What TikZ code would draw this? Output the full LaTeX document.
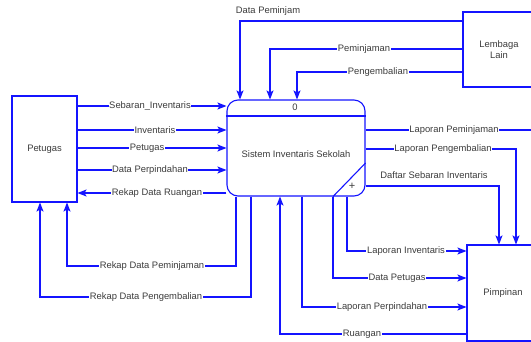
\documentclass[tikz,border=0pt]{standalone}
\usepackage{fontspec}
\setmainfont{Liberation Sans}
\usetikzlibrary{arrows.meta}
\definecolor{flowblue}{RGB}{20,20,255}
\definecolor{txtgray}{RGB}{60,60,60}
\tikzset{
  boxstyle/.style={draw=flowblue, line width=1.1pt, fill=white, text=txtgray, font=\fontsize{9.4}{11}\selectfont, align=center, inner sep=0pt},
  flow/.style={draw=flowblue, line width=1.1pt, -{Stealth[length=9pt,width=7pt,inset=2pt]}},
  plainflow/.style={draw=flowblue, line width=1.1pt},
  lbl/.style={fill=white, text=txtgray, font=\fontsize{9.4}{11}\selectfont, inner sep=0.6pt},
  freelbl/.style={text=txtgray, font=\fontsize{9.4}{11}\selectfont, inner sep=0.6pt}
}
\begin{document}
\begin{tikzpicture}[x=1pt,y=-1pt]
\useasboundingbox (0,0) rectangle (531,341);
\clip (0,0) rectangle (531,341);
\fill[white] (0,0) rectangle (531,341);

% entities
\node[boxstyle, minimum width=65pt, minimum height=106pt] (pet) at (44.5,149) {Petugas};
\node[boxstyle, minimum width=72pt, minimum height=75pt] (lem) at (499,49.5) {Lembaga\\Lain};
\node[boxstyle, minimum width=72pt, minimum height=96pt] (pim) at (503,293) {Pimpinan};

% process
\node[boxstyle, rounded corners=11pt, minimum width=138pt, minimum height=96pt] (proc) at (296,148) {};
\draw[plainflow] (proc.north west |- 0,116) -- (proc.north east |- 0,116);
\draw[plainflow] (proc.south -| 333,0) -- (proc.east |- 0,163);
\node[freelbl] (pnum) at (295,107.5) {0};
\node[freelbl] (ptitle) at (296,154) {Sistem Inventaris Sekolah};
\node[freelbl, font=\fontsize{11}{11}\selectfont] (pplus) at (352,186) {+};

% Lembaga Lain -> process
\draw[flow] (lem.west |- 0,21) -| (proc.north -| 240,0);
\node[freelbl] (l1) at (268,11) {Data Peminjam};
\draw[flow] (lem.west |- 0,49) -| (proc.north -| 270,0);
\node[lbl] (l2) at (364,49) {Peminjaman};
\draw[flow] (lem.west |- 0,72) -| (proc.north -| 297,0);
\node[lbl] (l3) at (378,72) {Pengembalian};

% Petugas <-> process
\draw[flow] (pet.east |- 0,106) -- (proc.west |- 0,106);
\node[lbl] (l4) at (150,106) {Sebaran\_Inventaris};
\draw[flow] (pet.east |- 0,130) -- (proc.west |- 0,130);
\node[lbl] (l5) at (155,130) {Inventaris};
\draw[flow] (pet.east |- 0,148) -- (proc.west |- 0,148);
\node[lbl] (l6) at (147,148) {Petugas};
\draw[flow] (pet.east |- 0,170) -- (proc.west |- 0,170);
\node[lbl] (l7) at (150,170) {Data Perpindahan};
\draw[flow] (proc.west |- 0,193) -- (pet.east |- 0,193);
\node[lbl] (l8) at (157,193) {Rekap Data Ruangan};
\draw[flow] (proc.south -| 236,0) |- (67,266) -- (pet.south -| 67,0);
\node[lbl] (l9) at (152,266) {Rekap Data Peminjaman};
\draw[flow] (proc.south -| 251,0) |- (40,297) -- (pet.south -| 40,0);
\node[lbl] (l10) at (146,297) {Rekap Data Pengembalian};

% Pimpinan <-> process
\draw[flow] (pim.west |- 0,334) -| (proc.south -| 280,0);
\node[lbl] (l11) at (362,334) {Ruangan};
\draw[flow] (proc.south -| 302,0) |- (pim.west |- 0,307);
\node[lbl] (l12) at (382,307) {Laporan Perpindahan};
\draw[flow] (proc.south -| 333,0) |- (pim.west |- 0,278);
\node[lbl] (l13) at (397,278) {Data Petugas};
\draw[flow] (proc.south -| 347,0) |- (pim.west |- 0,251);
\node[lbl] (l14) at (406,251) {Laporan Inventaris};
\draw[flow] (proc.east |- 0,186) -| (pim.north -| 499,0);
\node[freelbl] (l15) at (434,175) {Daftar Sebaran Inventaris};
\draw[flow] (proc.east |- 0,149) -| (pim.north -| 516,0);
\node[lbl] (l16) at (443,149) {Laporan Pengembalian};
\draw[flow] (proc.east |- 0,130) -| (pim.north -| 535,0);
\node[lbl] (l17) at (454,130) {Laporan Peminjaman};
\end{tikzpicture}
\end{document}
